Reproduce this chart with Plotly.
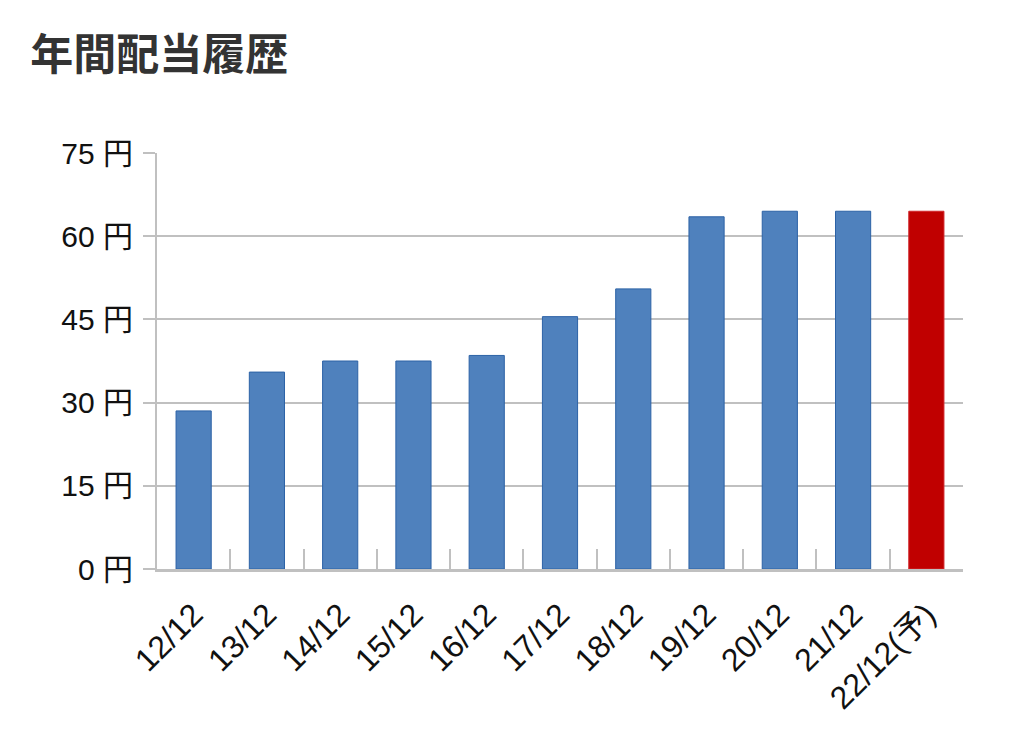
import plotly.graph_objects as go

# 年間配当 (円)
years = ["12/12", "13/12", "14/12", "15/12", "16/12", "17/12",
         "18/12", "19/12", "20/12", "21/12", "22/12(予)"]
dividends = [28.5, 35.5, 37.5, 37.5, 38.5, 45.5, 50.5, 63.5, 64.5, 64.5, 64.5]
y_ticks = [0, 15, 30, 45, 60, 75]
y_labels = [f"{v} 円" for v in y_ticks]

# 予想 (forecast) year in red, actuals in blue
bar_colors = ["#c00000" if "予" in y else "#4f81bd" for y in years]
line_colors = ["#d0262b" if "予" in y else "#2c62a6" for y in years]

tick_font = "Liberation Sans, Noto Sans CJK JP, sans-serif"
title_font = "Noto Sans CJK JP, sans-serif"

fig = go.Figure()
fig.add_trace(go.Bar(
    x=years, y=dividends,
    marker=dict(color=bar_colors, line=dict(color=line_colors, width=1)),
    hovertemplate="%{x}: %{y} 円<extra></extra>",
))

# page body adds 8px, so the figure is sized to the visible area
fig.update_layout(
    width=1016, height=733,
    margin=dict(l=149, r=61, t=145, b=172),
    paper_bgcolor="white", plot_bgcolor="white",
    showlegend=False, bargap=0.52,
    font=dict(family=tick_font, color="#111111"),
    title=dict(text="<b>年間配当履歴</b>", x=0.022, xanchor="left",
               y=0.936, yanchor="middle",
               font=dict(size=43, color="#333333", family=title_font)),
)
fig.update_xaxes(
    type="category", showline=True, linecolor="#c0c0c0", linewidth=3,
    ticks="inside", tickson="boundaries", ticklen=20, tickwidth=2,
    tickcolor="#c0c0c0", tickangle=-45, ticklabelstandoff=11,
    tickfont=dict(size=32, color="#111111"),
    showgrid=False,
)
fig.update_yaxes(
    range=[0, 75], tickvals=y_ticks, ticktext=y_labels,
    showline=True, linecolor="#c0c0c0", linewidth=2,
    ticks="outside", ticklen=12, tickwidth=2, tickcolor="#c0c0c0",
    ticklabelstandoff=4,
    showgrid=True, gridcolor="#c0c0c0", gridwidth=2, zeroline=False,
    tickfont=dict(size=30, color="#111111"),
)

fig.write_html("out.html")
